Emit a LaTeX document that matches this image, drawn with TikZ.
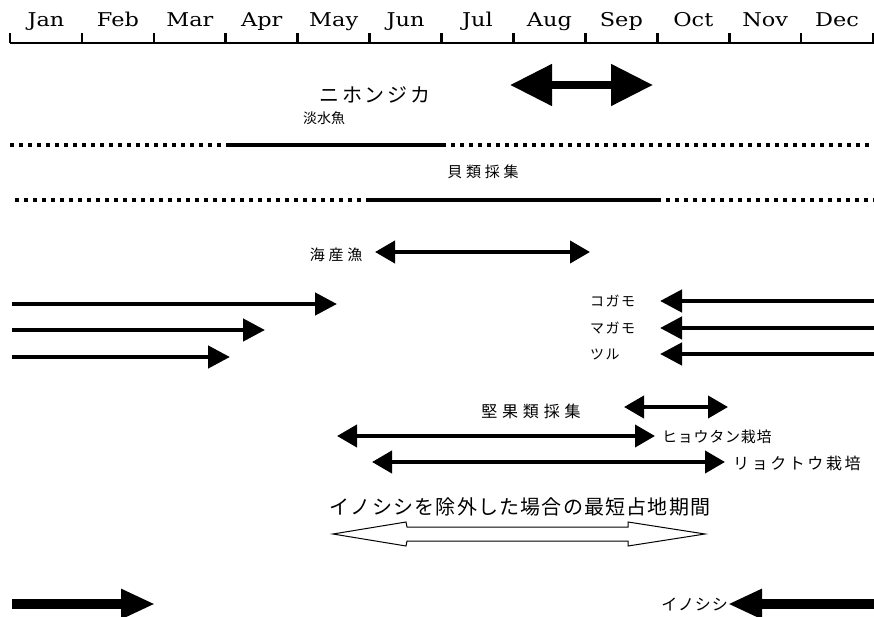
\documentclass[tikz,border=0pt]{standalone}
\usepackage{fontspec}
\setmainfont{DejaVu Serif}
\newfontfamily\cjk{Noto Sans CJK JP}
\usetikzlibrary{arrows.meta}
\newcommand{\jpf}[2]{\cjk\fontsize{#1}{#1}\selectfont\addfontfeature{LetterSpace=#2}}
\begin{document}
\begin{tikzpicture}[x=1pt,y=-1pt,
  month/.style={font=\fontsize{19}{19}\selectfont, inner sep=0pt, anchor=base},
  jp/.style={inner sep=0pt},
  axisline/.style={line width=2.2pt},
  tickline/.style={line width=2.6pt},
  dotline/.style={line width=3.2pt, dash pattern=on 3.8pt off 5.2pt},
  solidline/.style={line width=3.2pt},
  rarr/.style={line width=4.5pt, -{Triangle[length=22pt,width=22pt]}},
  darr/.style={line width=4pt, {Triangle[length=20pt,width=22pt]}-{Triangle[length=20pt,width=22pt]}},
  bigdarr/.style={line width=8pt, {Triangle[length=42pt,width=40pt]}-{Triangle[length=42pt,width=40pt]}},
  fatarr/.style={line width=10pt, -{Triangle[length=34pt,width=28pt]}},
  hollow/.style={draw, line width=1pt, fill=white}
]
\useasboundingbox (0,0) rectangle (874,617);

% axis
\coordinate (ax0) at (10,43);
\coordinate (ax1) at (874,43);
\draw[axisline] (ax0) -- (ax1);
\foreach \k in {0,...,12}{
  \coordinate (t\k) at ({10+71.92*\k},43);
  \coordinate (tt\k) at ({10+71.92*\k},33);
  \draw[tickline] (t\k) -- (tt\k);
}
\foreach \m [count=\i from 0] in {Jan,Feb,Mar,Apr,May,Jun,Jul,Aug,Sep,Oct,Nov,Dec}{
  \node[month] (m\i) at ({10+71.92*\i+36},26.5) {\scalebox{1.18}[1]{\m}};
}

% Nihonjika
\node[jp] (shika) at (375,95) {\jpf{20}{14}ニホンジカ};
\coordinate (sk1) at (510,85);
\coordinate (sk2) at (653,85);
\draw[bigdarr] (sk1) -- (sk2);

% freshwater fish
\node[jp] (tansui) at (324,118) {\jpf{14}{0}淡水魚};
\coordinate (l1a) at (10,145);
\coordinate (l1b) at (226,145);
\coordinate (l1c) at (442,145);
\coordinate (l1d) at (874,145);
\draw[dotline] (l1a) -- (l1b);
\draw[solidline] (l1b) -- (l1c);
\draw[dotline] (l1c) -- (l1d);

% shellfish
\node[jp] (kai) at (483,172) {\jpf{15}{25}貝類採集};
\coordinate (l2a) at (15,200);
\coordinate (l2b) at (370,200);
\coordinate (l2c) at (657,200);
\coordinate (l2d) at (874,200);
\draw[dotline] (l2a) -- (l2b);
\draw[solidline] (l2b) -- (l2c);
\draw[dotline] (l2c) -- (l2d);

% sea fish
\node[jp] (kaisan) at (336,255) {\jpf{15}{25}海産漁};
\coordinate (ks1) at (375,252);
\coordinate (ks2) at (590,252);
\draw[darr] (ks1) -- (ks2);

% birds
\coordinate (r1a) at (12,304); \coordinate (r1b) at (337,304);
\coordinate (r2a) at (12,330); \coordinate (r2b) at (265,330);
\coordinate (r3a) at (12,357); \coordinate (r3b) at (230,357);
\draw[rarr] (r1a) -- (r1b);
\draw[rarr] (r2a) -- (r2b);
\draw[rarr] (r3a) -- (r3b);
\node[jp, anchor=west] (kogamo) at (590,301) {\jpf{14}{10}コガモ};
\node[jp, anchor=west] (magamo) at (590,328) {\jpf{14}{10}マガモ};
\node[jp, anchor=west] (tsuru) at (590,354) {\jpf{14}{10}ツル};
\coordinate (g1a) at (874,301); \coordinate (g1b) at (660,301);
\coordinate (g2a) at (874,328); \coordinate (g2b) at (660,328);
\coordinate (g3a) at (874,354); \coordinate (g3b) at (660,354);
\draw[rarr] (g1a) -- (g1b);
\draw[rarr] (g2a) -- (g2b);
\draw[rarr] (g3a) -- (g3b);

% nuts, gourd, mung bean
\coordinate (n1) at (624,407); \coordinate (n2) at (728,407);
\draw[darr] (n1) -- (n2);
\node[jp] (kenka) at (531,411) {\jpf{16}{30}堅果類採集};
\coordinate (h1) at (337,436); \coordinate (h2) at (655,436);
\draw[darr] (h1) -- (h2);
\node[jp, anchor=west] (hyoutan) at (662,437) {\jpf{15}{5}ヒョウタン栽培};
\coordinate (r1) at (372,462); \coordinate (r2) at (725,462);
\draw[darr] (r1) -- (r2);
\node[jp, anchor=west] (ryokutou) at (733,463) {\jpf{16}{16}リョクトウ栽培};

% minimum occupation
\node[jp] (saitan) at (520,507) {\jpf{20}{6}イノシシを除外した場合の最短占地期間};
\draw[hollow] (333,534) -- (406,522) -- (407,527) -- (628,527) -- (628,522)
  -- (705,534) -- (628,546) -- (628,541) -- (407,541) -- (406,546) -- cycle;

% wild boar
\coordinate (b1a) at (12,604); \coordinate (b1b) at (155,604);
\draw[fatarr] (b1a) -- (b1b);
\node[jp, anchor=east] (inoshishi) at (728,604) {\jpf{16}{5}イノシシ};
\coordinate (b2a) at (874,604);
\draw[fatarr] (b2a) -- (inoshishi.east);
\end{tikzpicture}
\end{document}
